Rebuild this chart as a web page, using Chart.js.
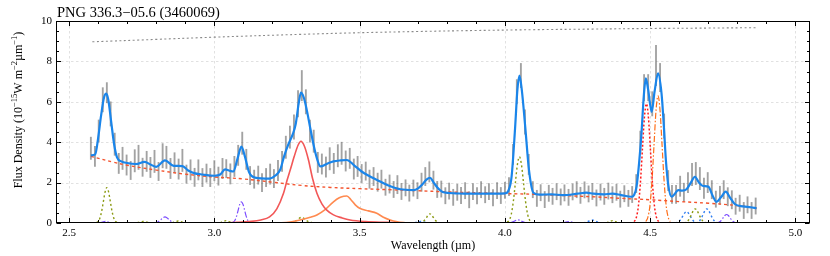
<!DOCTYPE html>
<html><head><meta charset="utf-8">
<script src="https://cdn.jsdelivr.net/npm/chart.js@4.4.0/dist/chart.umd.min.js"></script>
<style>html,body{margin:0;padding:0;background:#fff;}canvas{display:block;}</style>
</head><body>
<canvas id="c" width="830" height="256"></canvas>
<script>
const titleText = 'PNG 336.3\u221205.6 (3460069)';
const xTitle = 'Wavelength (\u00b5m)';
const yTitleParts = [['Flux Density (10',0],['\u221215',1],['W m',0],['\u22122',1],['\u00b5m',0],['\u22121',1],[')',0]];
const xTicks = [2.5,3.0,3.5,4.0,4.5,5.0];
const yTicks = [0,2,4,6,8,10];
const xMinorStep = 0.1, yMinorStep = 0.5;

// observed spectrum
const wave = [2.575,2.589,2.602,2.616,2.630,2.643,2.657,2.671,2.684,2.698,
2.712,2.726,2.739,2.753,2.767,2.780,2.794,2.808,2.822,2.835,
2.849,2.863,2.877,2.890,2.904,2.918,2.932,2.945,2.959,2.973,
2.986,3.000,3.014,3.028,3.041,3.055,3.069,3.082,3.096,3.110,
3.123,3.137,3.151,3.164,3.178,3.192,3.205,3.219,3.233,3.246,
3.260,3.274,3.288,3.301,3.315,3.329,3.342,3.356,3.370,3.384,
3.397,3.411,3.425,3.438,3.452,3.466,3.480,3.493,3.507,3.521,
3.534,3.548,3.562,3.575,3.589,3.603,3.617,3.630,3.644,3.658,
3.671,3.685,3.699,3.713,3.726,3.740,3.754,3.767,3.781,3.795,
3.808,3.822,3.836,3.849,3.863,3.877,3.890,3.904,3.918,3.932,
3.945,3.959,3.973,3.986,4.000,4.014,4.028,4.041,4.055,4.069,
4.082,4.096,4.110,4.123,4.137,4.151,4.164,4.178,4.192,4.205,
4.219,4.233,4.247,4.260,4.274,4.288,4.301,4.315,4.329,4.342,
4.356,4.370,4.384,4.397,4.411,4.425,4.438,4.452,4.466,4.479,
4.493,4.507,4.520,4.534,4.548,4.562,4.575,4.589,4.603,4.616,
4.630,4.644,4.657,4.671,4.685,4.698,4.712,4.726,4.740,4.753,
4.767,4.781,4.794,4.808,4.822,4.835,4.849,4.863];
const flux = [3.70,3.30,4.55,6.10,6.45,5.40,3.90,2.95,3.20,2.87,
2.60,3.08,3.25,2.76,3.05,2.75,3.05,2.55,3.33,3.25,
2.70,2.98,2.67,3.10,2.42,2.63,2.26,2.63,2.25,2.47,
2.25,2.59,2.32,2.70,2.69,2.43,2.80,3.35,3.95,3.15,
2.35,2.17,2.37,2.00,2.25,2.42,2.20,2.60,3.05,3.75,
4.25,4.75,5.90,6.80,6.00,4.55,4.05,3.00,2.92,2.77,
3.18,2.95,3.33,3.45,3.07,3.20,2.67,2.80,2.45,2.57,
2.17,2.30,2.02,2.17,1.77,1.93,1.66,1.90,1.56,1.74,
1.48,1.73,1.60,2.02,2.30,2.53,2.12,1.66,1.68,1.35,
1.58,1.27,1.52,1.36,1.60,1.15,1.55,1.35,1.65,1.40,
1.55,1.25,1.60,1.36,1.62,1.80,3.40,6.50,7.30,5.00,
2.90,1.65,1.22,1.50,1.16,1.47,1.32,1.55,1.29,1.49,
1.27,1.54,1.65,1.37,1.64,1.44,1.56,1.24,1.53,1.32,
1.58,1.40,1.52,1.18,1.45,1.22,1.41,1.95,4.00,6.70,
6.70,5.90,7.80,7.20,4.80,2.10,1.42,1.42,1.82,1.52,
2.00,2.40,2.45,2.20,1.72,2.00,1.65,1.18,1.37,1.65,
1.30,1.15,0.83,0.98,0.62,0.90,0.62,0.84];
const err = [0.55,0.50,0.55,0.60,0.50,0.60,0.55,0.50,0.55,0.50,
0.45,0.55,0.60,0.45,0.50,0.50,0.55,0.45,0.60,0.55,
0.50,0.50,0.50,0.55,0.45,0.50,0.45,0.50,0.45,0.45,
0.45,0.50,0.45,0.50,0.45,0.50,0.50,0.50,0.55,0.50,
0.45,0.45,0.45,0.45,0.45,0.50,0.45,0.50,0.50,0.55,
0.55,0.60,0.65,0.75,0.60,0.55,0.55,0.50,0.50,0.50,
0.55,0.50,0.55,0.55,0.50,0.50,0.50,0.50,0.45,0.45,
0.45,0.45,0.45,0.45,0.40,0.45,0.40,0.45,0.40,0.40,
0.40,0.40,0.40,0.45,0.45,0.50,0.45,0.40,0.40,0.40,
0.40,0.40,0.40,0.40,0.40,0.40,0.40,0.40,0.40,0.40,
0.40,0.40,0.40,0.40,0.40,0.45,0.50,0.60,0.60,0.60,
0.50,0.40,0.40,0.40,0.40,0.40,0.40,0.40,0.40,0.40,
0.40,0.40,0.40,0.40,0.40,0.40,0.40,0.40,0.40,0.40,
0.40,0.40,0.40,0.40,0.40,0.40,0.40,0.45,0.55,0.65,
0.65,0.60,1.00,0.70,0.60,0.50,0.45,0.45,0.50,0.45,
0.50,0.55,0.55,0.55,0.50,0.50,0.45,0.40,0.45,0.45,
0.45,0.45,0.40,0.40,0.40,0.40,0.40,0.40];

// total model fit (blue)
const modelWave = [2.575,2.59,2.60,2.61,2.62,2.628,2.635,2.645,2.655,2.665,2.68,2.70,2.73,2.76,2.78,2.80,2.83,2.86,2.89,2.91,2.93,2.96,3.00,3.02,3.037,3.05,3.065,3.08,3.093,3.105,3.12,3.14,3.19,3.21,3.227,3.24,3.255,3.27,3.28,3.29,3.298,3.308,3.318,3.33,3.341,3.353,3.365,3.39,3.41,3.435,3.456,3.48,3.507,3.53,3.56,3.595,3.64,3.685,3.70,3.714,3.73,3.742,3.755,3.768,3.788,3.83,3.87,3.93,3.97,4.00,4.012,4.023,4.035,4.043,4.05,4.058,4.07,4.083,4.098,4.12,4.16,4.20,4.25,4.28,4.305,4.34,4.37,4.40,4.436,4.445,4.453,4.462,4.47,4.478,4.485,4.493,4.505,4.515,4.527,4.539,4.547,4.554,4.562,4.574,4.585,4.596,4.61,4.625,4.64,4.654,4.668,4.682,4.70,4.715,4.728,4.745,4.76,4.775,4.791,4.82,4.845,4.866];
const modelFlux = [3.35,3.4,4.2,5.3,6.2,6.4,6.1,5.0,3.9,3.25,3.05,2.97,2.92,3.03,2.9,2.78,3.1,2.83,2.82,2.6,2.47,2.4,2.34,2.4,2.65,2.6,2.55,3.2,3.78,3.3,2.5,2.25,2.2,2.35,2.65,3.3,3.9,4.4,4.9,5.9,6.45,6.2,5.6,4.7,3.9,3.2,2.8,2.95,3.05,3.1,3.12,2.87,2.55,2.35,2.13,1.88,1.67,1.63,1.7,1.88,2.15,2.24,2.0,1.75,1.52,1.47,1.45,1.45,1.45,1.47,1.6,2.3,4.7,6.6,7.3,6.6,4.75,2.6,1.5,1.4,1.42,1.38,1.45,1.5,1.45,1.42,1.45,1.38,1.3,1.4,1.8,3.0,4.44,6.3,7.16,6.6,5.5,6.5,7.41,6.42,4.8,3.12,1.9,1.3,1.45,1.63,1.6,1.67,2.0,2.29,2.0,1.83,1.8,1.35,1.05,1.3,1.55,1.25,0.94,0.82,0.78,0.73];

// continuum (dashed red) and upper dotted grey curve
const contWave = [2.575,2.65,2.7,2.8,2.9,3.0,3.1,3.2,3.3,3.4,3.5,3.6,3.7,3.8,3.9,4.0,4.1,4.2,4.3,4.4,4.5,4.6,4.7,4.8,4.866];
const contFlux = [3.3,3.02,2.86,2.62,2.42,2.28,2.18,2.02,1.86,1.76,1.7,1.65,1.6,1.54,1.5,1.46,1.42,1.36,1.3,1.22,1.15,1.06,0.98,0.86,0.73];
const topWave = [2.58,2.8,3.0,3.3,3.5,3.7,3.9,4.1,4.3,4.5,4.7,4.87];
const topFlux = [8.97,9.09,9.2,9.34,9.42,9.48,9.53,9.57,9.6,9.63,9.65,9.67];

// 3.3 um feature (red solid) and 3.4 um plateau (orange solid)
const f33Wave = [3.03,3.08,3.12,3.16,3.19,3.215,3.238,3.25,3.261,3.275,3.288,3.298,3.31,3.324,3.338,3.353,3.37,3.387,3.41,3.44,3.467,3.52,3.6,3.66];
const f33Flux = [0,0.03,0.07,0.15,0.3,0.7,1.47,2.1,2.62,3.3,3.85,4.05,3.8,3.12,2.2,1.47,0.95,0.64,0.4,0.25,0.15,0.07,0.03,0];
const f34Wave = [3.215,3.26,3.295,3.33,3.353,3.38,3.41,3.43,3.445,3.456,3.47,3.485,3.5,3.53,3.559,3.58,3.605,3.63,3.662];
const f34Flux = [0,0.05,0.15,0.28,0.4,0.65,1.05,1.25,1.32,1.34,1.15,0.9,0.73,0.6,0.48,0.3,0.15,0.06,0];

// line components (null separates individual lines)
const oliveWave = [2.594,2.600,2.606,2.612,2.618,2.624,2.630,2.636,2.642,2.648,2.654,2.660,2.666,null,
2.735,2.745,2.755,2.765,2.775,null,2.855,2.865,2.875,2.885,2.895,null,3.02,3.03,3.04,3.05,3.06,null,
3.264,3.276,3.288,3.294,3.300,3.306,3.312,3.324,3.336,null,
3.706,3.712,3.718,3.724,3.730,3.736,3.742,3.748,3.754,3.760,3.766,3.772,3.778,null,
4.008,4.015,4.022,4.029,4.036,4.043,4.050,4.057,4.064,4.071,4.078,4.085,4.092,null,
4.35,4.36,4.37,4.38,4.39,null,
4.616,4.6225,4.629,4.6355,4.642,4.6485,4.655,4.6615,4.668,4.6745,4.681,4.6875,4.694];
const oliveFlux = [0.02,0.08,0.24,0.57,1.06,1.54,1.75,1.54,1.06,0.57,0.24,0.08,0.02,null,
0.01,0.05,0.08,0.05,0.01,null,0.01,0.06,0.1,0.06,0.01,null,0.01,0.07,0.12,0.07,0.01,null,
0.02,0.07,0.17,0.25,0.28,0.25,0.17,0.07,0.02,null,
0.005,0.02,0.06,0.15,0.27,0.40,0.45,0.40,0.27,0.15,0.06,0.02,0.005,null,
0.04,0.14,0.44,1.07,1.99,2.89,3.28,2.89,1.99,1.07,0.44,0.14,0.04,null,
0.01,0.07,0.12,0.07,0.01,null,
0.008,0.03,0.095,0.23,0.42,0.62,0.7,0.62,0.42,0.23,0.095,0.03,0.008];
const purpleWave = [2.605,2.615,2.625,2.635,2.645,null,
2.791,2.7975,2.804,2.8105,2.817,2.8235,2.83,2.8365,2.843,2.8495,2.856,2.8625,2.869,null,
3.06,3.0655,3.071,3.0765,3.082,3.0875,3.093,3.0985,3.104,3.1095,3.115,3.1205,3.126,null,
4.02,4.03,4.04,4.045,4.05,4.06,4.07,null,4.20,4.21,4.22,4.23,4.24,null,
4.727,4.733,4.739,4.745,4.751,4.757,4.763,4.769,4.775,4.781,4.787,4.793,4.799];
const purpleFlux = [0.01,0.05,0.08,0.05,0.01,null,
0.003,0.013,0.04,0.1,0.18,0.26,0.3,0.26,0.18,0.1,0.04,0.013,0.003,null,
0.012,0.046,0.14,0.34,0.64,0.93,1.05,0.93,0.64,0.34,0.14,0.046,0.012,null,
0.01,0.07,0.14,0.15,0.14,0.07,0.01,null,0.01,0.05,0.07,0.05,0.01,null,
0.005,0.018,0.057,0.136,0.255,0.37,0.42,0.37,0.255,0.136,0.057,0.018,0.005];
const bluedWave = [3.69,3.70,3.71,3.72,3.73,null,4.27,4.28,4.29,4.30,4.31,4.32,4.33,null,
4.586,4.5925,4.599,4.6055,4.612,4.6185,4.625,4.6315,4.638,4.6445,4.651,4.6575,4.664,null,
4.656,4.6625,4.669,4.6755,4.682,4.6885,4.695,4.7015,4.708,4.7145,4.721,4.7275,4.734];
const bluedFlux = [0.01,0.05,0.08,0.05,0.01,null,0.01,0.04,0.1,0.15,0.1,0.04,0.01,null,
0.006,0.025,0.076,0.18,0.34,0.49,0.56,0.49,0.34,0.18,0.076,0.025,0.006,null,
0.008,0.03,0.095,0.23,0.42,0.62,0.7,0.62,0.42,0.23,0.095,0.03,0.008];
const reddWave = [4.445,4.452,4.459,4.466,4.473,4.480,4.487,4.494,4.501,4.508,4.515,4.522,4.529];
const reddFlux = [0.065,0.26,0.80,1.92,3.58,5.21,5.9,5.21,3.58,1.92,0.80,0.26,0.065];
const orddWave = [4.485,4.492,4.499,4.506,4.513,4.520,4.527,4.534,4.541,4.548,4.555,4.562,4.569];
const orddFlux = [0.07,0.28,0.85,2.05,3.82,5.56,6.3,5.56,3.82,2.05,0.85,0.28,0.07];

function pts(ws, fs){
  let last = ws[0];
  return ws.map((w,i)=>{ if(w===null) return {x:last, y:null}; last=w; return {x:w, y:fs[i]}; });
}
const FONT = "'Liberation Serif','Times New Roman',serif";

const framePlugin = {
  id:'framePlugin',
  beforeDatasetsDraw(chart){
    const {ctx, chartArea:a, scales:{x,y}} = chart;
    ctx.save();
    ctx.strokeStyle='#d9d9d9'; ctx.lineWidth=0.8; ctx.setLineDash([2.5,2.5]);
    xTicks.forEach(v=>{const p=Math.round(x.getPixelForValue(v))+0.5; ctx.beginPath(); ctx.moveTo(p,a.top); ctx.lineTo(p,a.bottom); ctx.stroke();});
    yTicks.forEach(v=>{ if(v<=y.min||v>=y.max) return; const p=Math.round(y.getPixelForValue(v))+0.5; ctx.beginPath(); ctx.moveTo(a.left,p); ctx.lineTo(a.right,p); ctx.stroke();});
    ctx.restore();
  },
  afterDatasetsDraw(chart){
    const {ctx, chartArea:a, scales:{x,y}} = chart;
    ctx.save();
    ctx.strokeStyle='#000'; ctx.lineWidth=1; ctx.setLineDash([]);
    const L=Math.round(a.left)+0.5, R=Math.round(a.right)-0.5, T=Math.round(a.top)+0.5, B=Math.round(a.bottom)-0.5;
    ctx.strokeRect(L,T,R-L,B-T);
    ctx.beginPath();
    const xm0 = Math.ceil(x.min/xMinorStep), xm1 = Math.floor(x.max/xMinorStep);
    for(let k=xm0;k<=xm1;k++){
      const v=k*xMinorStep; const major = xTicks.some(t=>Math.abs(t-v)<1e-6);
      const len = major?4.5:2.5; const p=Math.round(x.getPixelForValue(v))+0.5;
      ctx.moveTo(p,B); ctx.lineTo(p,B-len); ctx.moveTo(p,T); ctx.lineTo(p,T+len);
    }
    const ym0 = Math.ceil(y.min/yMinorStep), ym1 = Math.floor(y.max/yMinorStep);
    for(let k=ym0;k<=ym1;k++){
      const v=k*yMinorStep; const major = yTicks.some(t=>Math.abs(t-v)<1e-6);
      const len = major?4.5:2.5; const p=Math.round(y.getPixelForValue(v))+0.5;
      ctx.moveTo(L,p); ctx.lineTo(L+len,p); ctx.moveTo(R,p); ctx.lineTo(R-len,p);
    }
    ctx.stroke();
    ctx.restore();
  },
  afterDraw(chart){
    const {ctx, chartArea:a} = chart;
    ctx.save();
    ctx.fillStyle='#000';
    ctx.font = '14.5px '+FONT; ctx.textAlign='left'; ctx.textBaseline='alphabetic';
    ctx.fillText(titleText, 57, 17);
    ctx.font = '12px '+FONT; ctx.textAlign='center';
    ctx.fillText(xTitle, (a.left+a.right)/2, 249);
    // y title with superscripts
    ctx.translate(18, 110); ctx.rotate(-Math.PI/2);
    ctx.textAlign='left';
    let total=0;
    yTitleParts.forEach(([t,s])=>{ctx.font=(s?'8.5px ':'12px ')+FONT; total+=ctx.measureText(t).width;});
    let xx=-total/2;
    yTitleParts.forEach(([t,s])=>{ctx.font=(s?'8.5px ':'12px ')+FONT; ctx.fillText(t,xx,s?-1:4); xx+=ctx.measureText(t).width;});
    ctx.restore();
  }
};

new Chart(document.getElementById('c'), {
  type:'line',
  data:{ datasets:[
    {type:'line', label:'fit', data:pts(modelWave,modelFlux), borderColor:'#1a85ea', borderWidth:2.2, pointRadius:0, cubicInterpolationMode:'monotone', order:0},
    {type:'line', label:'continuum', data:pts(contWave,contFlux), borderColor:'#f4542f', borderWidth:1.4, borderDash:[3,3], pointRadius:0, tension:0.4, order:1},
    {type:'line', label:'upper', data:pts(topWave,topFlux), borderColor:'#8a8a8a', borderWidth:1.1, borderDash:[2,2.5], pointRadius:0, tension:0.4, order:1},
    {type:'line', label:'3.3', data:pts(f33Wave,f33Flux), borderColor:'#f25757', borderWidth:1.6, pointRadius:0, cubicInterpolationMode:'monotone', order:2},
    {type:'line', label:'3.4', data:pts(f34Wave,f34Flux), borderColor:'#ff8a50', borderWidth:1.6, pointRadius:0, cubicInterpolationMode:'monotone', order:2},
    {type:'line', label:'olive', data:pts(oliveWave,oliveFlux), borderColor:'#8b9a12', borderWidth:1.4, borderDash:[2,2.5], pointRadius:0, cubicInterpolationMode:'monotone', order:2},
    {type:'line', label:'purple', data:pts(purpleWave,purpleFlux), borderColor:'#7c4dff', borderWidth:1.2, borderDash:[6,2,1.5,2], pointRadius:0, cubicInterpolationMode:'monotone', order:2},
    {type:'line', label:'blued', data:pts(bluedWave,bluedFlux), borderColor:'#2f7df0', borderWidth:1.4, borderDash:[2,2.5], pointRadius:0, cubicInterpolationMode:'monotone', order:2},
    {type:'line', label:'redd', data:pts(reddWave,reddFlux), borderColor:'#ff1c1c', borderWidth:1.5, borderDash:[2,2], pointRadius:0, cubicInterpolationMode:'monotone', order:2},
    {type:'line', label:'ordd', data:pts(orddWave,orddFlux), borderColor:'#ff6f1a', borderWidth:1.2, borderDash:[6,2,1.5,2], pointRadius:0, cubicInterpolationMode:'monotone', order:2},
    {type:'bar', label:'data', data:wave.map((w,i)=>({x:w, y:[flux[i]-err[i], flux[i]+err[i]]})), backgroundColor:'rgba(85,85,85,0.55)', borderWidth:0, barThickness:1.2, order:3}
  ]},
  options:{
    responsive:false, devicePixelRatio:1, animation:false, spanGaps:false,
    layout:{padding:{top:21, right:20, left:0, bottom:0}},
    plugins:{legend:{display:false}, tooltip:{enabled:false}, title:{display:false}},
    scales:{
      x:{type:'linear', min:2.455, max:5.05, offset:false,
         grid:{display:false, drawTicks:false}, border:{display:false},
         afterFit(s){s.height=33;},
         ticks:{autoSkip:false, includeBounds:false, stepSize:0.5, padding:4, color:'#000', font:{family:FONT, size:11}, callback:v=>Number(v).toFixed(1)}},
      y:{type:'linear', min:0, max:10,
         grid:{display:false, drawTicks:false}, border:{display:false},
         afterFit(s){s.width=56;},
         ticks:{stepSize:2, padding:4, color:'#000', font:{family:FONT, size:11}}}
    }
  },
  plugins:[framePlugin]
});
</script>
</body></html>
